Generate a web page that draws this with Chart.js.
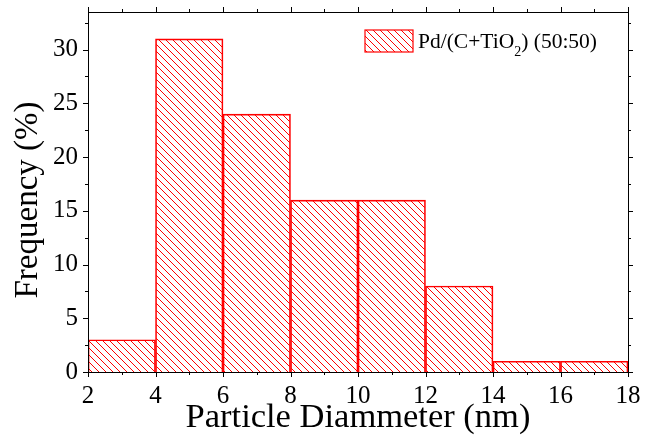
<!DOCTYPE html>
<html lang="en">
<head>
    <meta charset="UTF-8">
    <title>Particle size distribution</title>
    <script src="https://cdn.jsdelivr.net/npm/chart.js"></script>
    <style>
        html, body {
            margin: 0;
            padding: 0;
            background: #ffffff;
        }
        #wrap {
            width: 646px;
            height: 441px;
        }
    </style>
</head>
<body>
    <div id="wrap"><canvas id="histChart" width="646" height="441"></canvas></div>

    <script>
        // histogram bins (nm) and frequency per bin (%)
        const binCenters = [3, 5, 7, 9, 11, 13, 15, 17];
        const frequencies = [3, 31, 24, 16, 16, 8, 1, 1];
        const xTicks = [2, 4, 6, 8, 10, 12, 14, 16, 18];
        const yTicks = [0, 5, 10, 15, 20, 25, 30];
        const seriesName = "Pd/(C+TiO2) (50:50)";
        const yTitle = "Frequency (%)";

        const RED = "#ff0000";
        const SERIF = "'Liberation Serif', 'Times New Roman', serif";

        // diagonal "\" hatch used for the bars and legend swatch
        function makeHatch() {
            const s = 7;
            const c = document.createElement("canvas");
            c.width = s;
            c.height = s;
            const g = c.getContext("2d");
            g.strokeStyle = RED;
            g.lineWidth = 1;
            g.beginPath();
            for (const off of [-s, 0, s]) {
                g.moveTo(off, 0);
                g.lineTo(off + s, s);
            }
            g.stroke();
            return g.createPattern(c, "repeat");
        }
        const hatch = makeHatch();

        // frame, major/minor ticks, y title and the legend inside the plot
        const framePlugin = {
            id: "frame",
            afterDraw(chart) {
                const ctx = chart.ctx;
                const a = chart.chartArea;
                const xs = chart.scales.x, ys = chart.scales.y;
                ctx.save();
                ctx.strokeStyle = "#000";
                ctx.lineWidth = 1;
                ctx.strokeRect(a.left + 0.5, a.top + 0.5, a.right - a.left, a.bottom - a.top);

                ctx.beginPath();
                for (let v = 2; v <= 18; v += 1) {
                    const px = Math.round(xs.getPixelForValue(v)) + 0.5;
                    const len = v % 2 === 0 ? 5 : 3;
                    ctx.moveTo(px, a.bottom);
                    ctx.lineTo(px, a.bottom + len);
                    ctx.moveTo(px, a.top);
                    ctx.lineTo(px, a.top - len);
                }
                for (let v = 0; v <= 33; v += 2.5) {
                    const py = Math.round(ys.getPixelForValue(v)) + 0.5;
                    const len = v % 5 === 0 ? 5 : 3;
                    ctx.moveTo(a.left, py);
                    ctx.lineTo(a.left - len, py);
                    ctx.moveTo(a.right, py);
                    ctx.lineTo(a.right + len, py);
                }
                ctx.stroke();

                // rotated y title
                ctx.save();
                ctx.translate(37, 200);
                ctx.rotate(-Math.PI / 2);
                ctx.fillStyle = "#000";
                ctx.textAlign = "center";
                ctx.textBaseline = "alphabetic";
                ctx.font = "33px " + SERIF;
                ctx.fillText(yTitle, 0, 0);
                ctx.restore();

                // legend
                const bx = 365, by = 30, bw = 48, bh = 22;
                ctx.fillStyle = hatch;
                ctx.fillRect(bx, by, bw, bh);
                ctx.strokeStyle = RED;
                ctx.lineWidth = 1.2;
                ctx.strokeRect(bx, by, bw, bh);

                ctx.fillStyle = "#000";
                ctx.textBaseline = "alphabetic";
                ctx.textAlign = "left";
                ctx.font = "21.5px " + SERIF;
                let tx = 418;
                const base = 48;
                const parts = seriesName.split("2");
                ctx.fillText(parts[0], tx, base);
                tx += ctx.measureText(parts[0]).width;
                ctx.font = "14px " + SERIF;
                ctx.fillText("2", tx, base + 8);
                tx += ctx.measureText("2").width;
                ctx.font = "21.5px " + SERIF;
                ctx.fillText(parts[1], tx, base);
                ctx.restore();
            }
        };

        const ctx = document.getElementById("histChart").getContext("2d");
        new Chart(ctx, {
            type: "bar",
            data: {
                datasets: [{
                    label: seriesName,
                    data: binCenters.map((x, i) => ({ x: x, y: frequencies[i] })),
                    backgroundColor: hatch,
                    borderColor: RED,
                    borderWidth: 1,
                    barPercentage: 1,
                    categoryPercentage: 1
                }]
            },
            options: {
                responsive: false,
                animation: false,
                layout: { padding: { top: 12, right: 18, left: 0, bottom: 0 } },
                plugins: {
                    legend: { display: false },
                    tooltip: { enabled: false }
                },
                scales: {
                    x: {
                        type: "linear",
                        offset: false,
                        min: 2,
                        max: 18,
                        afterBuildTicks: s => { s.ticks = xTicks.map(v => ({ value: v })); },
                        afterFit: s => { s.height = 69; s.paddingLeft = 0; s.paddingRight = 0; },
                        grid: { display: false, drawTicks: false, offset: false },
                        border: { display: false },
                        ticks: {
                            padding: 9,
                            color: "#000",
                            font: { family: SERIF, size: 25 },
                            maxRotation: 0
                        },
                        title: {
                            display: true,
                            text: "Particle Diammeter (nm)",
                            color: "#000",
                            font: { family: SERIF, size: 34.5 },
                            padding: { top: 0, bottom: 2 }
                        }
                    },
                    y: {
                        min: 0,
                        max: 33.5,
                        afterBuildTicks: s => { s.ticks = yTicks.map(v => ({ value: v })); },
                        afterFit: s => { s.width = 88; s.paddingTop = 0; s.paddingBottom = 0; },
                        grid: { display: false, drawTicks: false },
                        border: { display: false },
                        ticks: {
                            padding: 10,
                            color: "#000",
                            font: { family: SERIF, size: 25 }
                        }
                    }
                }
            },
            plugins: [framePlugin]
        });
    </script>
</body>
</html>
